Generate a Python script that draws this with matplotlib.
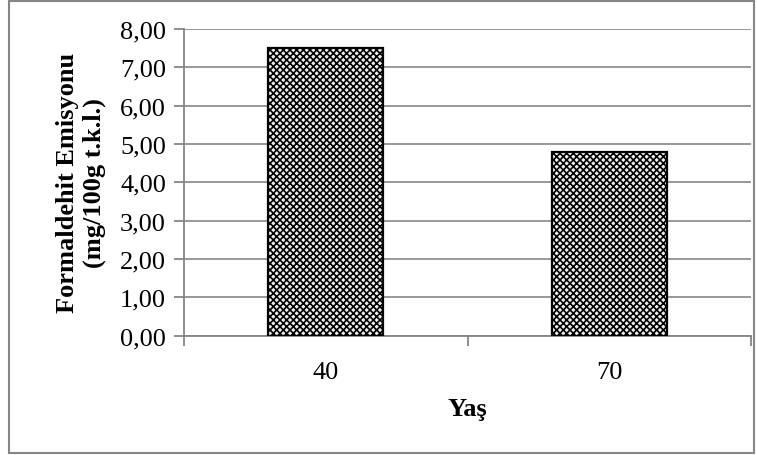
import matplotlib
matplotlib.use("Agg")
import matplotlib.pyplot as plt
from matplotlib.patches import Rectangle
import matplotlib as mpl

categories = ["40", "70"]
values = [7.51, 4.78]
yticks = [0, 1, 2, 3, 4, 5, 6, 7, 8]
ytick_labels = ["0,00", "1,00", "2,00", "3,00", "4,00", "5,00", "6,00", "7,00", "8,00"]

mpl.rcParams['font.family'] = ['Liberation Serif', 'DejaVu Serif']
mpl.rcParams['hatch.color'] = '#555555'
mpl.rcParams['hatch.linewidth'] = 1.2

W, H = 757, 456
fig = plt.figure(figsize=(W/100, H/100), dpi=100)
ax = fig.add_axes([184/W, 1 - 336.7/H, (751-184)/W, (336.7-30)/H])

# outer frame
fig.patches.append(Rectangle((9/W, 2/H), (754-9)/W, (454-2)/H, transform=fig.transFigure,
                             fill=False, edgecolor='#868686', linewidth=1.5))

x = list(range(len(categories)))
ax.bar(x, values, width=0.405, facecolor='#eeeeee', edgecolor='black', linewidth=1.6,
       hatch='xxxxx', zorder=3)

ax.set_xlim(-0.5, len(categories) - 0.5)
ax.set_ylim(0, 8)
ax.set_yticks(yticks)
ax.set_yticklabels(ytick_labels, fontsize=19)
ax.set_xticks(x)
ax.set_xticklabels(categories, fontsize=19)
ax.set_xticks([-0.5, 0.5, 1.5], minor=True)
ax.tick_params(axis='x', which='major', length=0, pad=18)
ax.tick_params(axis='x', which='minor', length=7, color='#868686', width=1.3, direction='out')
ax.tick_params(axis='y', length=7, color='#868686', width=1.3, direction='out', pad=6)

ax.grid(axis='y', color='#868686', linewidth=1.2, zorder=0)
ax.set_axisbelow(True)
for s in ['top', 'right']:
    ax.spines[s].set_visible(False)
for s in ['left', 'bottom']:
    ax.spines[s].set_color('#868686')
    ax.spines[s].set_linewidth(1.3)

ax.set_xlabel("Yaş", fontsize=19, fontweight='bold', labelpad=10)
ax.set_ylabel("Formaldehit Emisyonu\n(mg/100g t.k.l.)", fontsize=19, fontweight='bold',
              labelpad=10, linespacing=1.2)

fig.savefig("out.png", dpi=100)
